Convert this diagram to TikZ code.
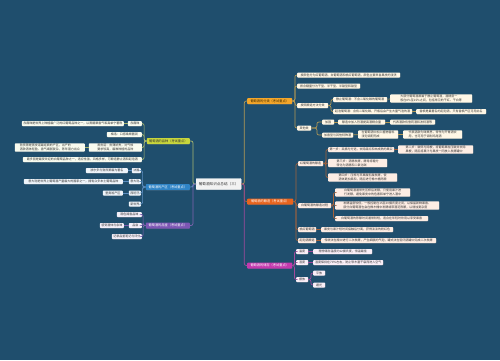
\documentclass[tikz,border=0pt]{standalone}
\usepackage{fontspec}
\newfontfamily\cjk{Noto Sans CJK SC}
\usetikzlibrary{shadows}
\definecolor{bg}{HTML}{1F4E6D}
\definecolor{fa}{HTML}{F4A62A}
\definecolor{fb}{HTML}{E8641E}
\definecolor{fc}{HTML}{C33AAE}
\definecolor{fd}{HTML}{C8D63C}
\definecolor{fe}{HTML}{2F84C6}
\definecolor{ff}{HTML}{7D56B4}
\definecolor{la}{HTML}{B49A55}
\definecolor{lb}{HTML}{A4623C}
\definecolor{lc}{HTML}{A04A9C}
\definecolor{ld}{HTML}{A8B870}
\definecolor{le}{HTML}{5C8EC0}
\definecolor{lf}{HTML}{8062B0}
\definecolor{ca}{HTML}{FFF7E6}
\definecolor{cb}{HTML}{FDEDE4}
\definecolor{cc}{HTML}{F9EEF7}
\definecolor{cd}{HTML}{F8FBEF}
\definecolor{ce}{HTML}{EEF4FA}
\definecolor{cf}{HTML}{F2EEF8}
\definecolor{txt}{HTML}{333333}
\definecolor{dk}{HTML}{3D2B00}
\begin{document}
\begin{tikzpicture}[x=1pt,y=-1pt,
  base/.style={font=\cjk\fontsize{3}{3.7}\selectfont, inner xsep=1.5pt, inner ysep=0.9pt,
    rounded corners=0.8pt, minimum height=5pt, align=left,
    drop shadow={opacity=0.3,shadow xshift=0.4pt,shadow yshift=-0.5pt}},
  root/.style={base, font=\cjk\fontsize{3.2}{3.8}\selectfont, minimum height=6pt, inner xsep=2pt, align=center},
  na/.style={base, fill=ca, text=txt},
  nb/.style={base, fill=cb, text=txt},
  nc/.style={base, fill=cc, text=txt},
  nd/.style={base, fill=cd, text=txt},
  ne/.style={base, fill=ce, text=txt},
  nf/.style={base, fill=cf, text=txt},
  ln/.style={line width=0.7pt, rounded corners=2pt},
  W/.style={anchor=west, minimum width=#1},
  E/.style={anchor=east, minimum width=#1}
]
\useasboundingbox (0,0) rectangle (500,360);
\fill[bg] (0,0) rectangle (500,360);

% center
\node[base, font=\cjk\fontsize{3.6}{4.2}\selectfont, fill=white!95!black, text=txt, draw=white, line width=0.3pt,
  anchor=west, minimum width=45pt, minimum height=11pt, align=center] (ctr) at (196,184) {葡萄酒知识点总结（三）};

% ---------- right branch 1
\node[root, fill=fa, text=dk, W=45pt] (B1) at (247,101) {葡萄酒的分类（考试重点）};
\node[na, W=103pt] (A) at (297,75) {按颜色分为红葡萄酒、白葡萄酒和桃红葡萄酒，颜色主要来自果皮的浸渍};
\node[na, W=63pt] (B) at (297,86) {按含糖量分为干型、半干型、半甜型和甜型};
\node[na, W=31pt] (C) at (297,105.5) {按照酿造方法分类};
\node[na, W=54pt] (C1) at (333,99.5) {静止葡萄酒：不含二氧化碳的葡萄酒};
\node[na, W=82pt] (C1a) at (390,98.5) {大部分葡萄酒都属于静止葡萄酒，酒精度一\\般在8\%至15\%之间，包括常见的干红、干白等};
\node[na, W=79pt] (C2) at (333,111.5) {起泡葡萄酒：含有二氧化碳，开瓶后会产生大量气泡的酒};
\node[na, W=70pt] (C2a) at (416,111.5) {香槟是最著名的起泡酒，只有香槟产区可用此名};
\node[na, W=14pt] (D) at (297,128) {其他类};
\node[na, W=12pt] (D1) at (322,122) {加强};
\node[na, W=47pt] (D1a) at (338,122) {酿造中加入烈酒提高酒精含量};
\node[na, W=45pt] (D1b) at (390,122) {代表酒款有雪莉酒和波特酒等};
\node[na, W=31pt] (D2) at (322,135) {加香型与其他特殊酒};
\node[na, W=40pt] (D2a) at (358,134.5) {在葡萄酒中加入植物香料\\浸泡调配而成};
\node[na, W=59pt] (D2b) at (403,134.5) {代表酒款为味美思，常作为开胃酒饮\\用，也可用于调制鸡尾酒};

\draw[ln, la] (ctr.east) -- ++(3,0) |- (B1.west);
\foreach \n in {A,B,C,D} \draw[ln, la] (B1.east) -- ++(2.5,0) |- (\n.west);
\foreach \n in {C1,C2} \draw[ln, la] (C.east) -- ++(2.5,0) |- (\n.west);
\foreach \n in {D1,D2} \draw[ln, la] (D.east) -- ++(5.5,0) |- (\n.west);
\draw[ln, la] (C1) -- (C1a);
\draw[ln, la] (C2) -- (C2a);
\draw[ln, la] (D1) -- (D1a);
\draw[ln, la] (D1a) -- (D1b);
\draw[ln, la] (D2) -- (D2a);
\draw[ln, la] (D2a) -- (D2b);

% ---------- right branch 2
\node[root, fill=fb, text=white, W=46pt] (B2) at (247,201.5) {葡萄酒的酿造（考试重点）};
\node[nb, W=25pt] (E) at (298,163.5) {红葡萄酒的酿造};
\node[nb, W=65pt] (E1) at (328,149.5) {第一步：采摘与分选，去除腐烂和未成熟的果实};
\node[nb, W=75pt] (E1a) at (398,149.5) {第二步：破碎与除梗，将葡萄果粒压破并去除\\果梗，随后将果汁与果皮一同放入发酵罐中};
\node[nb, W=59pt] (E2) at (328,163) {第三步：酒精发酵，酵母将糖分\\转化为酒精和二氧化碳};
\node[nb, W=69pt] (E3) at (328,177.5) {第四步：压榨与苹果酸乳酸发酵，使\\酒体更加柔和，随后进行橡木桶陈酿};
\node[nb, W=33pt] (F) at (298,205.5) {白葡萄酒的酿造过程};
\node[nb, W=75pt] (F1) at (335,192.5) {白葡萄酒通常先压榨后发酵，只使用果汁进\\行发酵，避免果皮中的色素和单宁进入酒中};
\node[nb, W=104pt] (F2) at (335,205.5) {发酵温度较低，一般控制在15至20摄氏度之间，以保留新鲜果香。\\部分白葡萄酒也会在橡木桶中发酵或带酒泥陈酿，以增加复杂度};
\node[nb, W=93pt] (F3) at (335,218.5) {白葡萄酒的陈酿时间通常较短，适合在年轻时饮用以享受果香};
\node[nb, W=18pt] (G) at (298,229.5) {桃红葡萄酒};
\node[nb, W=72pt] (G1) at (321,229.5) {果皮与果汁短时间接触后分离，获得淡淡的粉红色};
\node[nb, W=18pt] (H) at (298,240.5) {起泡酒酿造};
\node[nb, W=115pt] (H1) at (321,240.5) {传统法在瓶中进行二次发酵，产生细腻的气泡，罐式法在密闭酒罐中完成二次发酵};

\draw[ln, lb] (ctr.east) -- ++(3,0) |- (B2.west);
\foreach \n in {E,F,G,H} \draw[ln, lb] (B2.east) -- ++(2.5,0) |- (\n.west);
\foreach \n in {E1,E2,E3} \draw[ln, lb] (E.east) -- ++(2.5,0) |- (\n.west);
\foreach \n in {F1,F2,F3} \draw[ln, lb] (F.east) -- ++(2,0) |- (\n.west);
\draw[ln, lb] (E1) -- (E1a);
\draw[ln, lb] (G) -- (G1);
\draw[ln, lb] (H) -- (H1);

% ---------- right branch 3
\node[root, fill=fc, text=white, W=45pt] (B3) at (247,265.5) {葡萄酒的储存（考试重点）};
\node[nc, W=12pt] (I) at (296,251.5) {温度};
\node[nc, W=59pt] (I1) at (313,251.5) {理想储存温度约12摄氏度，恒温最佳};
\node[nc, W=12pt] (J) at (296,262.5) {湿度};
\node[nc, W=70pt] (J1) at (313,262.5) {湿度保持在70\%左右，防止软木塞干裂而进入空气};
\node[nc, W=12pt] (K) at (296,279.5) {摆放};
\node[nc, W=12pt] (K1) at (313,273) {平放};
\node[nc, W=12pt] (K2) at (313,285) {避光};

\draw[ln, lc] (ctr.east) -- ++(3,0) |- (B3.west);
\foreach \n in {I,J,K} \draw[ln, lc] (B3.east) -- ++(2,0) |- (\n.west);
\foreach \n in {K1,K2} \draw[ln, lc] (K.east) -- ++(2.5,0) |- (\n.west);
\draw[ln, lc] (I) -- (I1);
\draw[ln, lc] (J) -- (J1);

% ---------- left branch 1
\node[root, fill=fd, text=txt, E=43pt] (L1) at (190,141) {葡萄酒的品种（考试重点）};
\node[nd, E=14pt] (M) at (142,123.5) {赤霞珠};
\node[nd, E=102pt] (M1) at (124,123.5) {赤霞珠是世界上种植最广泛的红葡萄品种之一，以黑醋栗香气和高单宁著称};
\node[nd, E=35pt] (N) at (142,134.5) {梅洛：口感柔顺圆润};
\node[nd, E=53pt] (O) at (142,147.5) {黑皮诺：皮薄娇贵，对气候\\要求较高，最难种植的品种};
\node[nd, E=70pt] (O1) at (85,147.5) {勃艮第是黑皮诺最经典的产区，出产的\\酒款酒体轻盈、香气细腻复杂，陈年潜力出众};
\node[nd, E=119pt] (P) at (142,159.5) {霞多丽是最受欢迎的白葡萄品种之一，适应性强，风格多样，可酿造静止酒和起泡酒};

\draw[ln, ld] (ctr.west) -- ++(-3,0) |- (L1.east);
\foreach \n in {M,N,O,P} \draw[ln, ld] (L1.west) -- ++(-2.5,0) |- (\n.east);
\draw[ln, ld] (M) -- (M1);
\draw[ln, ld] (O) -- (O1);

% ---------- left branch 2
\node[root, fill=fe, text=white, E=44pt] (L2) at (190,187) {葡萄酒的产区（考试重点）};
\node[ne, E=9pt] (Q) at (141,170.5) {法国};
\node[ne, E=42pt] (Q1) at (128,170.5) {波尔多与勃艮第最为著名};
\node[ne, E=12pt] (R) at (141,181.5) {意大利};
\node[ne, E=99pt] (R1) at (123,181.5) {意大利是世界上葡萄酒产量最大的国家之一，拥有众多本土葡萄品种};
\node[ne, E=12pt] (S) at (141,193) {西班牙};
\node[ne, E=20pt] (S1) at (123,193) {里奥哈产区};
\node[ne, E=12pt] (T) at (141,204) {新世界};

\draw[ln, le] (ctr.west) -- ++(-3,0) |- (L2.east);
\foreach \n in {Q,R,S,T} \draw[ln, le] (L2.west) -- ++(-3,0) |- (\n.east);
\draw[ln, le] (Q) -- (Q1);
\draw[ln, le] (R) -- (R1);
\draw[ln, le] (S) -- (S1);

% ---------- left branch 3
\node[root, fill=ff, text=white, E=44pt] (L3) at (190,225.5) {葡萄酒的品鉴（考试重点）};
\node[nf, E=25pt] (U) at (142,214.5) {观色闻香品味};
\node[nf, E=13pt] (V) at (142,225.5) {品尝};
\node[nf, E=24pt] (V1) at (124,225.5) {感受酒体与余味};
\node[nf, E=30pt] (Wn) at (142,236.5) {记录品鉴笔记与评分};

\draw[ln, lf] (ctr.west) -- ++(-3,0) |- (L3.east);
\foreach \n in {U,V,Wn} \draw[ln, lf] (L3.west) -- ++(-2.5,0) |- (\n.east);
\draw[ln, lf] (V) -- (V1);
\end{tikzpicture}
\end{document}
